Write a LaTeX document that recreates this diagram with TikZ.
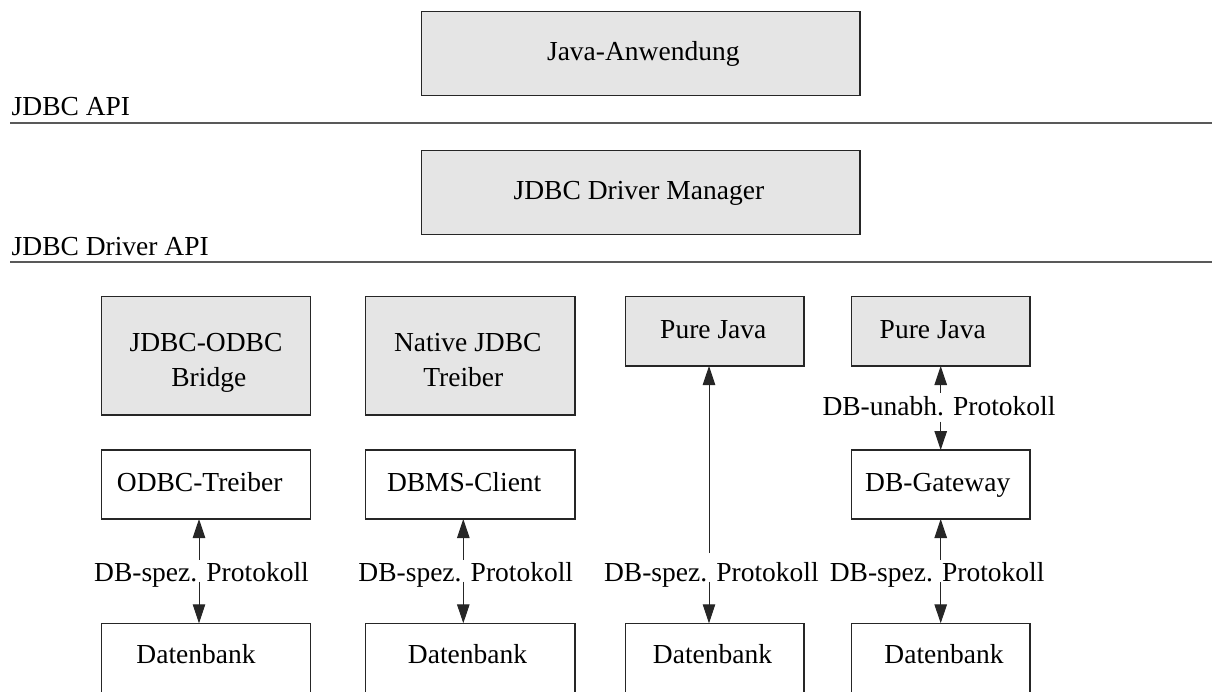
\documentclass[tikz,border=0pt]{standalone}
\usepackage{fontspec}
\setmainfont{Liberation Serif}
\usetikzlibrary{arrows.meta,calc}
\begin{document}
\begin{tikzpicture}[x=1pt,y=-1pt,
  gbox/.style={draw=black!85, line width=1.1pt, fill=gray!20, inner sep=0pt, outer sep=0pt},
  wbox/.style={draw=black!85, line width=1.1pt, fill=white, inner sep=0pt, outer sep=0pt},
  txt/.style={inner sep=0pt, outer sep=0pt, anchor=base, font=\fontsize{27.5}{33}\selectfont},
  sepline/.style={draw=black!65, line width=1.8pt},
  arr/.style={draw=black!85, line width=1pt, -{Triangle[length=19pt,width=12.5pt]}}]
\path[use as bounding box] (0,0) rectangle (1212,691);
\clip (0,0) rectangle (1212,691);

% layer labels and separator lines
\node[txt, anchor=base west] (api) at (11.7,115) {JDBC API};
\node[txt, anchor=base west] (dapi) at (11.7,255) {JDBC Driver API};
\draw[sepline] (10,122.7) -- (1212,122.7);
\draw[sepline] (10,262) -- (1212,262);

% top boxes
\node[gbox, minimum width=438.3pt, minimum height=83.8pt] (java) at (640.85,53.6) {};
\node[txt] (tjava) at (643.3,60) {Java-Anwendung};
\node[gbox, minimum width=438.3pt, minimum height=84.3pt] (dm) at (640.85,192.2) {};
\node[txt] (tdm) at (638.9,199.3) {JDBC Driver Manager};

% driver boxes
\node[gbox, minimum width=208.6pt, minimum height=118.3pt] (bridge) at (206,355.85) {};
\node[txt] (tb1) at (206,351.7) {JDBC-ODBC};
\node[txt] (tb2) at (208.8,386) {Bridge};
\node[gbox, minimum width=209.3pt, minimum height=118.3pt] (native) at (470.35,355.85) {};
\node[txt] (tn1) at (467.8,351.7) {Native JDBC};
\node[txt] (tn2) at (463.3,386) {Treiber};
\node[gbox, minimum width=178.3pt, minimum height=69.3pt] (pj1) at (714.85,331.35) {};
\node[txt] (tpj1) at (713.3,338.5) {Pure Java};
\node[gbox, minimum width=178.3pt, minimum height=69.3pt] (pj2) at (940.85,331.35) {};
\node[txt] (tpj2) at (932.8,338.5) {Pure Java};

% middle boxes
\node[wbox, minimum width=208.6pt, minimum height=69pt] (odbc) at (206,484.5) {};
\node[txt] (todbc) at (199.7,491.7) {ODBC-Treiber};
\node[wbox, minimum width=209.3pt, minimum height=69pt] (dbms) at (470.35,484.5) {};
\node[txt] (tdbms) at (464.2,491.7) {DBMS-Client};
\node[wbox, minimum width=178.3pt, minimum height=69pt] (gw) at (940.85,484.5) {};
\node[txt] (tgw) at (937.7,491.7) {DB-Gateway};

% database boxes
\node[wbox, minimum width=208.6pt, minimum height=120pt] (db1) at (206,683.3) {};
\node[txt] (tdb1) at (196,663.3) {Datenbank};
\node[wbox, minimum width=209.3pt, minimum height=120pt] (db2) at (470.35,683.3) {};
\node[txt] (tdb2) at (467.5,663.3) {Datenbank};
\node[wbox, minimum width=178.3pt, minimum height=120pt] (db3) at (714.85,683.3) {};
\node[txt] (tdb3) at (712.5,663.3) {Datenbank};
\node[wbox, minimum width=178.3pt, minimum height=120pt] (db4) at (940.85,683.3) {};
\node[txt] (tdb4) at (944,663.3) {Datenbank};

% protocol labels
\node[txt] (p1) at (201.5,581.7) {DB-spez. Protokoll};
\node[txt] (p2) at (465.8,581.7) {DB-spez. Protokoll};
\node[txt] (p3) at (711.4,581.7) {DB-spez. Protokoll};
\node[txt] (p4) at (937.2,581.7) {DB-spez. Protokoll};
\node[txt] (pu) at (939,415) {DB-unabh. Protokoll};

% arrow columns
\coordinate (c1) at (199,0);
\coordinate (c2) at (463.3,0);
\coordinate (c3) at (709,0);
\coordinate (c4) at (940.7,0);

\draw[arr] ($(p1.north -| c1)+(0,-3)$) -- (odbc.south -| c1);
\draw[arr] (p1.base -| c1) -- (db1.north -| c1);
\draw[arr] ($(p2.north -| c2)+(0,-3)$) -- (dbms.south -| c2);
\draw[arr] (p2.base -| c2) -- (db2.north -| c2);
\draw[arr] ($(p3.north -| c3)+(0,-9.5)$) -- (pj1.south -| c3);
\draw[arr] (p3.base -| c3) -- (db3.north -| c3);
\draw[arr] ($(pu.north -| c4)+(0,-3)$) -- (pj2.south -| c4);
\draw[arr] ($(pu.base -| c4)+(0,6.5)$) -- (gw.north -| c4);
\draw[arr] ($(p4.north -| c4)+(0,-3)$) -- (gw.south -| c4);
\draw[arr] (p4.base -| c4) -- (db4.north -| c4);
\end{tikzpicture}
\end{document}
